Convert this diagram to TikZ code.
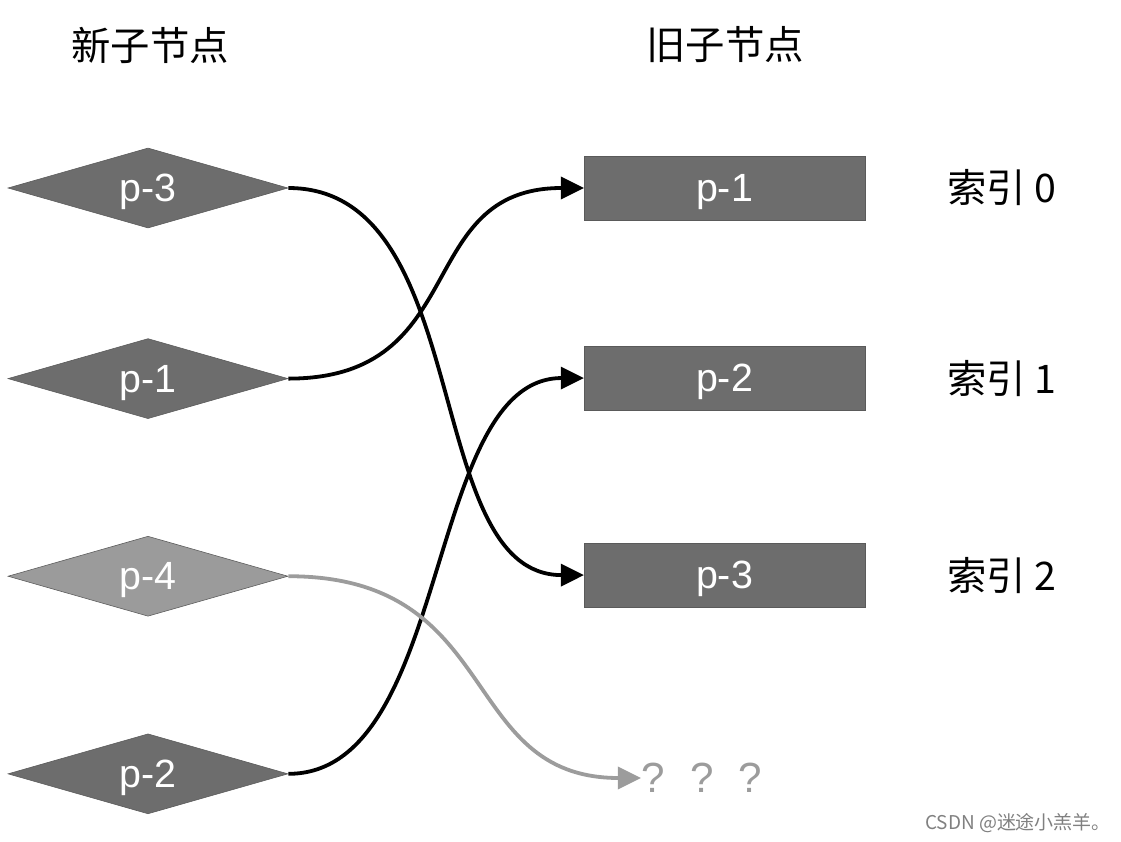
\documentclass[tikz,border=0pt]{standalone}
\usepackage{fontspec}
\setmainfont{Liberation Sans}
\newfontfamily\cjk{Noto Sans CJK SC}
\usetikzlibrary{positioning,shapes.geometric,arrows.meta}

\definecolor{darkbox}{HTML}{6D6D6D}
\definecolor{darkedge}{HTML}{5A5A5A}
\definecolor{lightbox}{HTML}{9B9B9B}
\definecolor{lightline}{HTML}{9C9C9C}

\begin{document}
\begin{tikzpicture}[x=0.025cm, y=-0.025cm,
                    diamondnode/.style={diamond, aspect=3.5, draw=darkedge, fill=darkbox, minimum width=7cm, minimum height=2cm, inner sep=0pt, text=white, text depth=0pt, font=\fontsize{28}{32}\selectfont},
                    squarednode/.style={rectangle, draw=darkedge, fill=darkbox, minimum width=7.025cm, minimum height=1.6cm, outer sep=0pt, text=white, text depth=0pt, font=\fontsize{28}{32}\selectfont},
                    titlenode/.style={font=\cjk\fontsize{28}{32}\selectfont},
                    indexnode/.style={inner sep=0pt, anchor=west, font=\cjk\fontsize{28}{32}\selectfont},
                    link/.style={line width=2.7pt, -{Triangle[length=0.58cm,width=0.55cm]}}
                ]
                    \useasboundingbox (0,0) rectangle (1121,842);

                    % new children
                    \node[titlenode] (newtitle) at (150,45) {新子节点};
                    \node[diamondnode] (newp3) at (148,188) {p-3};
                    \node[diamondnode] (newp1) [below=2.75cm of newp3] {p-1};
                    \node[diamondnode, fill=lightbox] (newp4) [below=2.925cm of newp1] {p-4};
                    \node[diamondnode] (newp2) [below=2.925cm of newp4] {p-2};

                    % old children
                    \node[titlenode] (oldtitle) at (725,45) {旧子节点};
                    \node[squarednode] (oldp1) at (724.5,188) {p-1};
                    \node[squarednode] (oldp2) [below=3.15cm of oldp1] {p-2};
                    \node[squarednode] (oldp3) [below=3.325cm of oldp2] {p-3};
                    \node[indexnode] (idx0) [right=2.05cm of oldp1] {索引 0};
                    \node[indexnode] (idx1) [right=2.05cm of oldp2] {索引 1};
                    \node[indexnode] (idx2) [right=2.05cm of oldp3] {索引 2};

                    \node[inner sep=0pt, anchor=west, text=lightline, font=\fontsize{30}{34}\selectfont] (unknown) at (641,778) {?\hspace{0.6em}?\hspace{0.6em}?};
                    \node[text=gray, font=\cjk\fontsize{13.5}{16}\selectfont] (mark) at (1018,823) {CSDN @迷途小羔羊。};

                    \draw[link] (newp3.east) to[out=0, in=180, out distance=4.7cm, in distance=4.1cm] (oldp3.west);
                    \draw[link] (newp1.east) to[out=0, in=180, out distance=4.6cm, in distance=4.3cm] (oldp1.west);
                    \draw[link] (newp2.east) to[out=0, in=180, out distance=4.1cm, in distance=4.0cm] (oldp2.west);
                    \draw[link, draw=lightline] (newp4.east) to[out=0, in=180, out distance=5.4cm, in distance=4.6cm] (unknown.west);
                \end{tikzpicture}
\end{document}
